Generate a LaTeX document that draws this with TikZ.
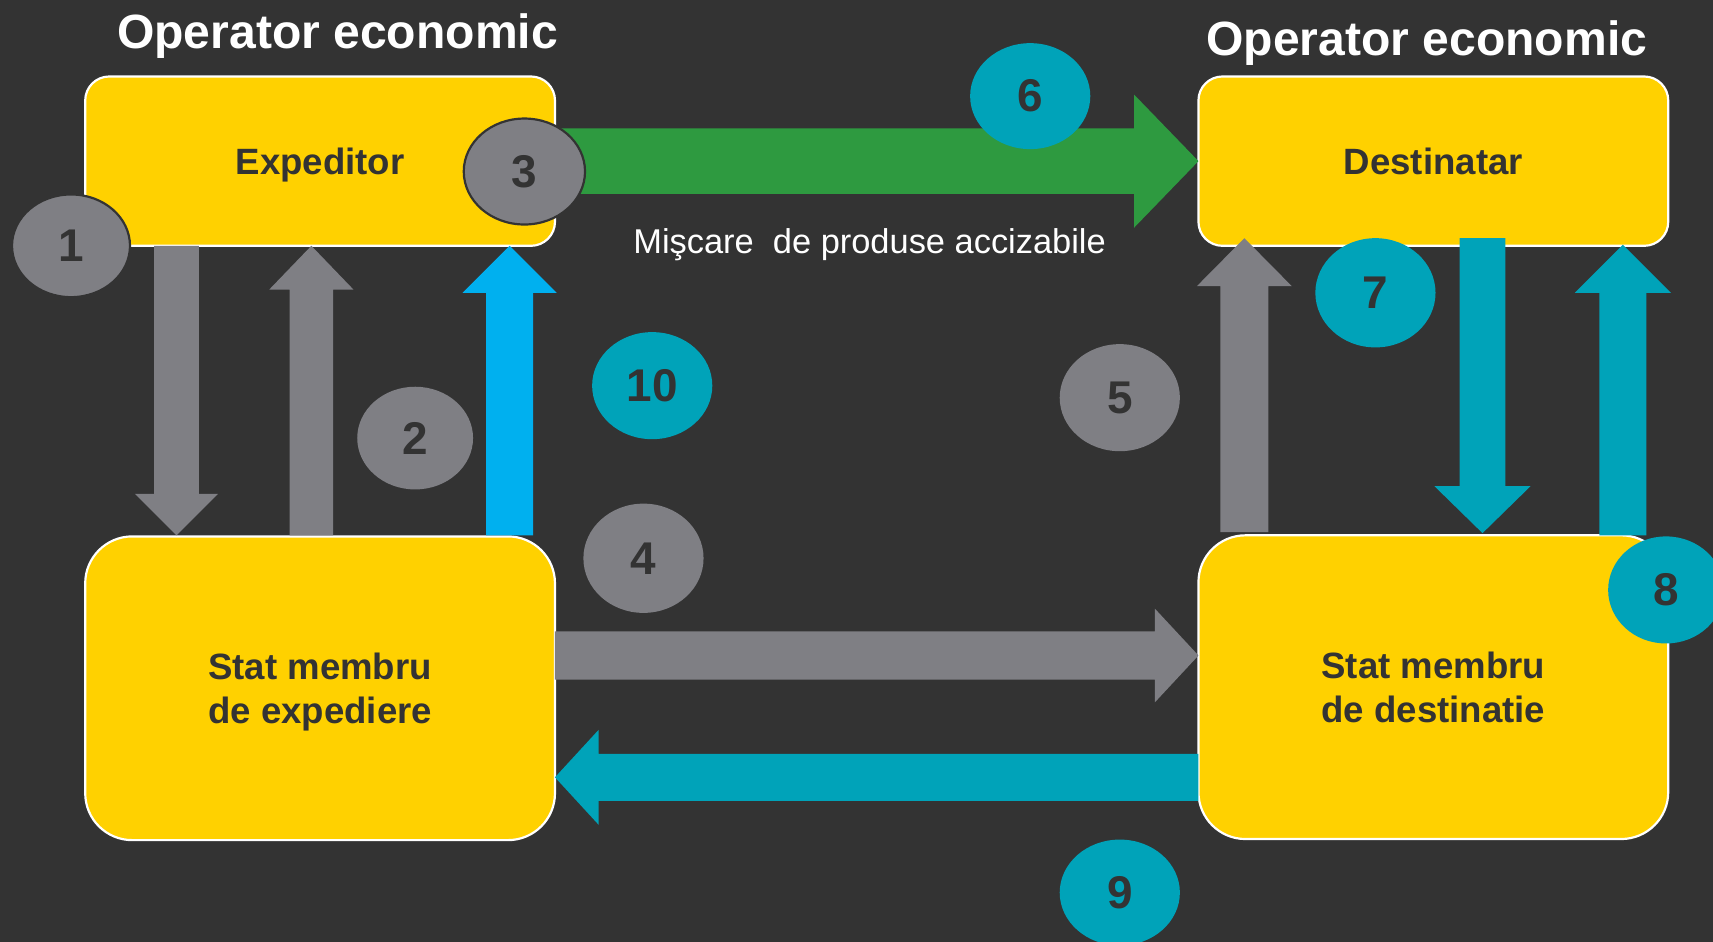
\documentclass[tikz,border=0pt]{standalone}
\usepackage{fontspec}
\setmainfont{Liberation Sans}
\usetikzlibrary{calc,shapes.geometric}
\definecolor{bg}{HTML}{333333}
\definecolor{ylw}{HTML}{FFD100}
\definecolor{gry}{HTML}{7F7F84}
\definecolor{grn}{HTML}{2E9A40}
\definecolor{tea}{HTML}{00A3B9}
\definecolor{blu}{HTML}{00B0EF}
\newcommand\blockarrow[6]{%
  \coordinate (ba-a) at #2; \coordinate (ba-b) at #3;
  \coordinate (ba-h) at ($(ba-b)!#6!(ba-a)$);
  \fill[#1] ($(ba-a)!#4!90:(ba-b)$) -- ($(ba-h)!#4!90:(ba-b)$) -- ($(ba-h)!#5!90:(ba-b)$) -- (ba-b)
    -- ($(ba-h)!#5!-90:(ba-b)$) -- ($(ba-h)!#4!-90:(ba-b)$) -- ($(ba-a)!#4!-90:(ba-b)$) -- cycle;}
\begin{document}
\begin{tikzpicture}[x=0.5pt,y=-0.5pt,
  box/.style={draw=white, line width=1pt, fill=ylw, rounded corners=11pt,
    minimum width=215pt, minimum height=77.5pt, inner sep=0pt, outer sep=0pt,
    font=\bfseries\fontsize{16.75}{20.5}\selectfont, text=bg, align=center, text depth=0pt},
  bigbox/.style={box, rounded corners=21.5pt, minimum height=139pt},
  num/.style={ellipse, minimum width=55pt, minimum height=48.5pt, inner sep=0pt,
    font=\bfseries\fontsize{21}{21}\selectfont, text=bg},
  gnum/.style={num, fill=gry},
  tnum/.style={num, fill=tea},
  ringed/.style={draw=bg, line width=1pt},
  title/.style={text=white, font=\bfseries\fontsize{22}{22}\selectfont},
  lbl/.style={text=white, font=\fontsize{15.75}{16}\selectfont}]
\fill[bg] (0,0) rectangle (1568,862);
\useasboundingbox (0,0) rectangle (1568,862);
% titles
\node[title] (t1) at (309,33) {Operator economic};
\node[title] (t2) at (1306,39) {Operator economic};
% boxes
\node[box] (exp) at (293,147.5) {Expeditor};
\node[box] (dst) at (1312,147.5) {Destinatar};
\node[bigbox] (sme) at (293,630) {Stat membru\\ de expediere};
\node[bigbox] (smd) at (1312,629) {Stat membru\\ de destinatie};
\node[lbl] (mv) at (796,224) {Mişcare\ \ de produse accizabile};
% arrows
\blockarrow{gry}{($(exp.south west)+(83.5,0)$)}{($(sme.north west)+(83.5,-1)$)}{10.25pt}{19pt}{19pt}
\blockarrow{gry}{($(sme.north west)+(207,-1)$)}{($(exp.south west)+(207,0)$)}{10pt}{19.25pt}{20pt}
\blockarrow{blu}{($(sme.north west)+(388.5,-1)$)}{($(exp.south west)+(388.5,0)$)}{10.75pt}{21.5pt}{21.5pt}
\blockarrow{gry}{($(sme.north east)+(0,109)$)}{($(smd.north west)+(0,110)$)}{11pt}{21.5pt}{20pt}
\blockarrow{gry}{($(smd.north west)+(42,-3)$)}{($(dst.south west)+(42,-7)$)}{11pt}{21.75pt}{22pt}
\blockarrow{grn}{(exp.east)}{(dst.west)}{15pt}{30.5pt}{29.5pt}
\blockarrow{tea}{($(dst.south west)+(260,-7)$)}{($(smd.north west)+(260,-2)$)}{10.5pt}{22pt}{21.5pt}
\blockarrow{tea}{($(smd.north west)+(388.5,0)$)}{($(dst.south west)+(388.5,-1)$)}{10.75pt}{22pt}{22pt}
\blockarrow{tea}{($(smd.north west)+(0,221.5)$)}{($(sme.north east)+(0,220.5)$)}{10.75pt}{21.75pt}{20pt}
% numbered markers
\node[gnum, ringed, minimum width=54pt, minimum height=47pt] (c1) at (65,225) {1};
\node[gnum, minimum width=53pt, minimum height=47pt] (c2) at (380,401) {2};
\node[gnum, ringed, minimum width=55.5pt] (c3) at (480,157) {3};
\node[gnum, minimum height=50pt] (c4) at (589,511) {4};
\node[gnum, minimum height=49pt] (c5) at (1025,364) {5};
\node[tnum] (c6) at (943,88) {6};
\node[tnum, minimum height=50pt] (c7) at (1259,268) {7};
\node[tnum, minimum width=53pt, minimum height=49pt] (c8) at (1525,540) {8};
\node[tnum] (c9) at (1025,817) {9};
\node[tnum, minimum height=49pt] (c10) at (597,353) {10};
\end{tikzpicture}
\end{document}
